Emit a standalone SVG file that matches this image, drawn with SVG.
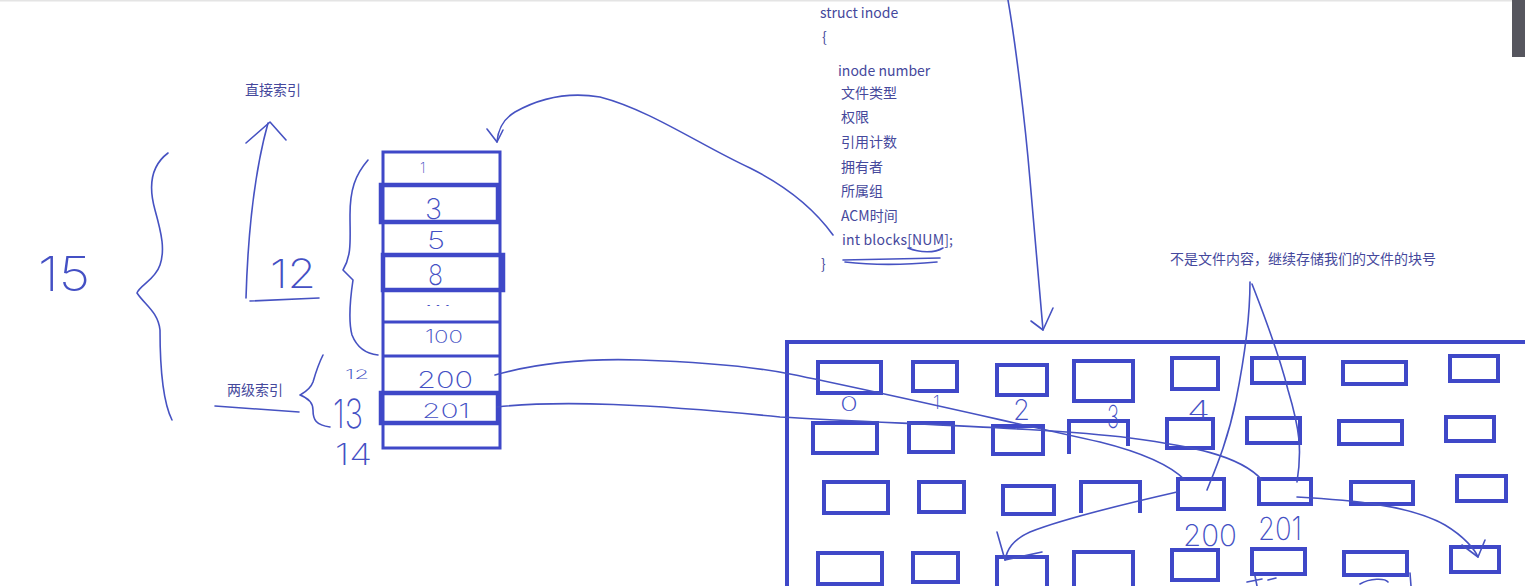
<svg xmlns="http://www.w3.org/2000/svg" width="1525" height="586" viewBox="0 0 1525 586">
<style>
.box{fill:none;stroke:#3f48c8;stroke-width:4}
.tb{fill:none;stroke:#3f48c8;stroke-width:3}
.tk{fill:none;stroke:#3f48c8;stroke-width:4.5}
.pen{fill:none;stroke:#4652c2;stroke-width:1.6;stroke-linecap:round;stroke-linejoin:round}
.t{font-family:"Noto Sans CJK SC","Noto Sans",sans-serif;font-size:14px;fill:#45489c}
.hw{font-family:"Inter","Roboto","Liberation Sans",sans-serif;font-weight:200;fill:#4450c4}
</style>
<rect x="0" y="0" width="1525" height="586" fill="#ffffff"/>
<line x1="0" y1="0.8" x2="1512" y2="0.8" stroke="#e4e4e4" stroke-width="1.5"/>
<rect x="1512" y="0" width="13" height="57" fill="#56565e"/>

<g id="labels-left">
  <text class="t" x="245" y="95">直接索引</text>
  <text class="t" x="227" y="395">两级索引</text>
  <text class="hw" x="38" y="291" font-size="48" textLength="52" lengthAdjust="spacingAndGlyphs">15</text>
  <text class="hw" x="270" y="288" font-size="40" textLength="46" lengthAdjust="spacingAndGlyphs">12</text>
  <text class="hw" x="345" y="379" font-size="13" textLength="24" lengthAdjust="spacingAndGlyphs">12</text>
  <text class="hw" x="333" y="428" font-size="40" textLength="30" lengthAdjust="spacingAndGlyphs">13</text>
  <text class="hw" x="335" y="465" font-size="30" textLength="37" lengthAdjust="spacingAndGlyphs">14</text>
  <path class="pen" d="M168,153 C152,165 148,185 155,210 C162,235 165,250 160,265 C155,280 140,285 137,293 C145,305 158,312 160,330 C160,360 162,400 172,420"/>
  <path class="pen" d="M368,160 C355,175 350,190 350,215 C350,240 352,255 343,270 L353,280 C350,300 348,320 352,335 C358,350 368,354 378,355"/>
  <path class="pen" d="M323,355 C318,365 315,375 313,382 C310,390 303,393 300,395 C308,398 313,402 313,410 C313,420 316,425 330,427"/>
  <path class="pen" d="M215,406 L299,412"/>
  <path class="pen" d="M246,298 C248,230 255,170 268,123"/>
  <path class="pen" d="M246,143 L270,122 L286,140"/>
  <path class="pen" d="M250,301 L319,298"/>
</g>

<g id="inode-table">
  <rect class="tb" x="383" y="152" width="117" height="296"/>
  <path class="tb" d="M383,185 H500 M383,222 H500 M383,255 H500 M383,290 H500 M383,322 H500 M383,356 H500 M383,393 H500 M383,423 H500"/>
  <rect class="tk" x="381" y="185" width="117" height="37"/>
  <rect class="tk" x="383" y="255" width="120" height="35"/>
  <rect class="tk" x="381" y="393" width="117" height="30"/>
  <text class="hw" x="420" y="173" font-size="14">1</text>
  <text class="hw" x="425" y="219" font-size="28" textLength="17" lengthAdjust="spacingAndGlyphs">3</text>
  <text class="hw" x="427" y="249" font-size="24" textLength="18" lengthAdjust="spacingAndGlyphs">5</text>
  <text class="hw" x="428" y="285" font-size="28" textLength="15" lengthAdjust="spacingAndGlyphs">8</text>
  <text class="hw" x="424" y="306" font-size="14" textLength="28" lengthAdjust="spacingAndGlyphs">...</text>
  <text class="hw" x="425" y="343" font-size="18" textLength="38" lengthAdjust="spacingAndGlyphs">100</text>
  <text class="hw" x="417" y="388" font-size="23" textLength="56" lengthAdjust="spacingAndGlyphs">200</text>
  <text class="hw" x="422" y="418" font-size="20" textLength="48" lengthAdjust="spacingAndGlyphs">201</text>
</g>

<g id="inode-struct">
  <text class="t" x="820" y="18">struct inode</text>
  <text class="t" x="822" y="42">{</text>
  <text class="t" x="838" y="76">inode number</text>
  <text class="t" x="841" y="98">文件类型</text>
  <text class="t" x="841" y="122">权限</text>
  <text class="t" x="841" y="147">引用计数</text>
  <text class="t" x="841" y="172">拥有者</text>
  <text class="t" x="841" y="196">所属组</text>
  <text class="t" x="841" y="221">ACM时间</text>
  <text class="t" x="842" y="245" textLength="111">int blocks[NUM];</text>
  <text class="t" x="821" y="269">}</text>
  <path class="pen" d="M908,248 C920,253 935,253 943,248"/>
  <path class="pen" d="M843,260 L940,258"/>
  <path class="pen" d="M845,262 C880,266 915,264 937,262"/>
</g>

<g id="annotation">
  <text class="t" x="1170" y="264">不是文件内容，继续存储我们的文件的块号</text>
</g>

<g id="disk-blocks">
  <path class="box" d="M787,586 L787,342 L1525,342"/>
  <rect class="box" x="818" y="362" width="63" height="31"/>
  <rect class="box" x="913" y="362" width="44" height="29"/>
  <rect class="box" x="997" y="365" width="50" height="30"/>
  <rect class="box" x="1074" y="361" width="59" height="40"/>
  <rect class="box" x="1172" y="358" width="46" height="31"/>
  <rect class="box" x="1252" y="358" width="52" height="25"/>
  <rect class="box" x="1343" y="362" width="63" height="22"/>
  <rect class="box" x="1450" y="356" width="48" height="25"/>

  <rect class="box" x="813" y="423" width="64" height="30"/>
  <rect class="box" x="909" y="423" width="44" height="29"/>
  <rect class="box" x="993" y="426" width="50" height="28"/>
  <path class="box" d="M1069,454 L1069,421 L1128,421 L1128,446"/>
  <rect class="box" x="1167" y="419" width="46" height="29"/>
  <rect class="box" x="1247" y="418" width="53" height="25"/>
  <rect class="box" x="1339" y="421" width="63" height="23"/>
  <rect class="box" x="1446" y="417" width="48" height="24"/>

  <rect class="box" x="824" y="482" width="64" height="31"/>
  <rect class="box" x="919" y="482" width="45" height="30"/>
  <rect class="box" x="1003" y="486" width="51" height="28"/>
  <path class="box" d="M1081,513 L1081,482 L1140,482 L1140,513"/>
  <rect class="box" x="1178" y="479" width="46" height="30"/>
  <rect class="box" x="1259" y="479" width="52" height="25"/>
  <rect class="box" x="1351" y="482" width="62" height="22"/>
  <rect class="box" x="1457" y="476" width="49" height="25"/>

  <rect class="box" x="818" y="553" width="64" height="31"/>
  <rect class="box" x="913" y="553" width="45" height="29"/>
  <path class="box" d="M997,590 L997,557 L1047,557 L1047,590"/>
  <path class="box" d="M1074,590 L1074,552 L1133,552 L1133,590"/>
  <rect class="box" x="1172" y="550" width="46" height="30"/>
  <rect class="box" x="1252" y="549" width="53" height="25"/>
  <rect class="box" x="1344" y="552" width="63" height="23"/>
  <rect class="box" x="1451" y="547" width="48" height="25"/>

  <text class="hw" x="840" y="411" font-size="20" textLength="18" lengthAdjust="spacingAndGlyphs">0</text>
  <text class="hw" x="933" y="409" font-size="18">1</text>
  <text class="hw" x="1013" y="420" font-size="28" textLength="17" lengthAdjust="spacingAndGlyphs">2</text>
  <text class="hw" x="1107" y="428" font-size="32" textLength="12" lengthAdjust="spacingAndGlyphs">3</text>
  <text class="hw" x="1187" y="419" font-size="26" textLength="23" lengthAdjust="spacingAndGlyphs">4</text>
  <text class="hw" x="1183" y="546" font-size="30" textLength="54" lengthAdjust="spacingAndGlyphs">200</text>
  <text class="hw" x="1258" y="540" font-size="32" textLength="44" lengthAdjust="spacingAndGlyphs">201</text>
  <path class="pen" d="M1247,582 L1262,579 M1255,576 L1257,586 M1268,580 L1276,578 M1360,584 C1370,578 1385,578 1388,582 M1410,573 L1411,586"/>
</g>

<g id="connectors">
  <path class="pen" d="M833,235 C815,210 790,188 750,168 C700,145 650,110 600,97 C570,92 540,98 515,112 C502,120 498,130 497,142"/>
  <path class="pen" d="M487,129 L497,142 L503,130"/>
  <path class="pen" d="M1008,0 C1015,40 1025,120 1030,180 C1035,240 1040,290 1043,330"/>
  <path class="pen" d="M1031,321 L1043,330 L1053,308"/>
  <path class="pen" d="M495,375 C530,365 580,358 640,360 C700,362 750,366 790,374 C880,392 1000,420 1100,442 C1140,452 1170,465 1185,480"/>
  <path class="pen" d="M497,407 C560,400 650,404 780,417 C900,424 1050,428 1130,438 C1190,446 1240,455 1262,480"/>
  <path class="pen" d="M1250,282 C1250,320 1242,370 1236,400 C1228,440 1215,470 1207,490"/>
  <path class="pen" d="M1252,284 C1262,310 1278,350 1288,390 C1300,430 1302,450 1297,482"/>
  <path class="pen" d="M1177,492 C1120,505 1060,520 1030,532 C1012,540 1007,550 1005,560"/>
  <path class="pen" d="M997,532 L1005,560 L1042,552"/>
  <path class="pen" d="M1297,497 C1350,500 1410,505 1445,525 C1465,537 1475,550 1478,557"/>
  <path class="pen" d="M1462,545 L1478,557 L1485,540"/>
</g>
</svg>
